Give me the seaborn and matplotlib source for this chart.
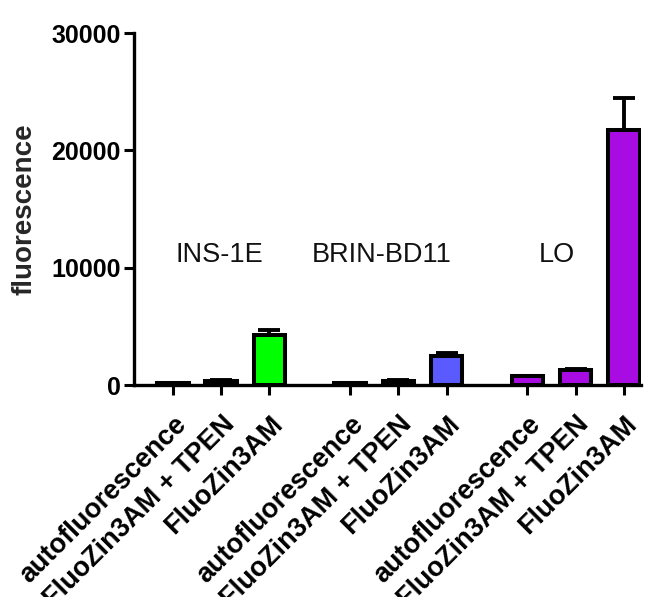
import matplotlib
matplotlib.use("Agg")
import matplotlib.pyplot as plt
import numpy as np
import pandas as pd
import seaborn as sns

# Mean fluorescence per cell line and staining condition
groups = ["INS-1E", "BRIN-BD11", "LO"]
conditions = ["autofluorescence", "FluoZin3AM + TPEN", "FluoZin3AM"]
means = {
    "INS-1E": [180, 320, 4250],
    "BRIN-BD11": [180, 330, 2500],
    "LO": [800, 1250, 21700],
}
errors = {
    "INS-1E": [0, 80, 400],
    "BRIN-BD11": [0, 60, 230],
    "LO": [0, 130, 2750],
}
colors = {"INS-1E": "#00FF00", "BRIN-BD11": "#5A5AFF", "LO": "#A90CE3"}
yticks = [0, 10000, 20000, 30000]

# bar slots: three bars per group, with a wider gap between groups
group_gap = 1.68
rows = []
for gi, g in enumerate(groups):
    for ci, c in enumerate(conditions):
        rows.append({"group": g, "condition": c, "pos": gi * (2 + group_gap) + ci,
                     "value": means[g][ci], "err": errors[g][ci]})
df = pd.DataFrame(rows)

sns.set_theme(style="white")
plt.rcParams["font.family"] = ["Liberation Sans", "DejaVu Sans"]

fig = plt.figure(figsize=(6.61, 5.97), dpi=100)
ax = fig.add_axes([0.2024, 0.3551, 0.9697 - 0.2024, 0.9447 - 0.3551])

ax.errorbar(df["pos"], df["value"], yerr=[np.zeros(len(df)), df["err"]],
            fmt="none", ecolor="black", elinewidth=2.8, capsize=7.9,
            capthick=2.8, zorder=1)
sns.barplot(data=df, x="pos", y="value", hue="group", palette=colors,
            saturation=1, native_scale=True, width=0.66, edgecolor="black",
            linewidth=2.9, errorbar=None, legend=False, ax=ax, zorder=2)

ax.set_xlim(-0.82, df["pos"].iloc[-1] + 0.36)
ax.set_ylim(0, 30000)
ax.set_yticks(yticks)
ax.set_yticklabels([str(t) for t in yticks], fontsize=18, fontweight="bold")
ax.set_xticks(df["pos"])
ax.set_xticklabels(df["condition"], rotation=45, ha="right", va="top",
                   rotation_mode="anchor", fontsize=19.5, fontweight="bold")

ax.set_xlabel("")
ax.set_ylabel("fluorescence", fontsize=20, fontweight="bold", labelpad=10)

for side in ["top", "right"]:
    ax.spines[side].set_visible(False)
for side in ["left", "bottom"]:
    ax.spines[side].set_linewidth(2.4)
    ax.spines[side].set_color("black")
ax.tick_params(axis="both", which="major", length=7.5, width=2.2,
               color="black", labelcolor="black", direction="out",
               bottom=True, left=True)
ax.tick_params(axis="y", pad=2)
ax.tick_params(axis="x", pad=11.5)

# cell line names above each group
label_x = [0.95, 4.34, 7.98]
for g, x in zip(groups, label_x):
    ax.text(x, 11100, g, ha="center", va="center", fontsize=19.5,
            color="#111111")

fig.savefig("out.png", dpi=100)
